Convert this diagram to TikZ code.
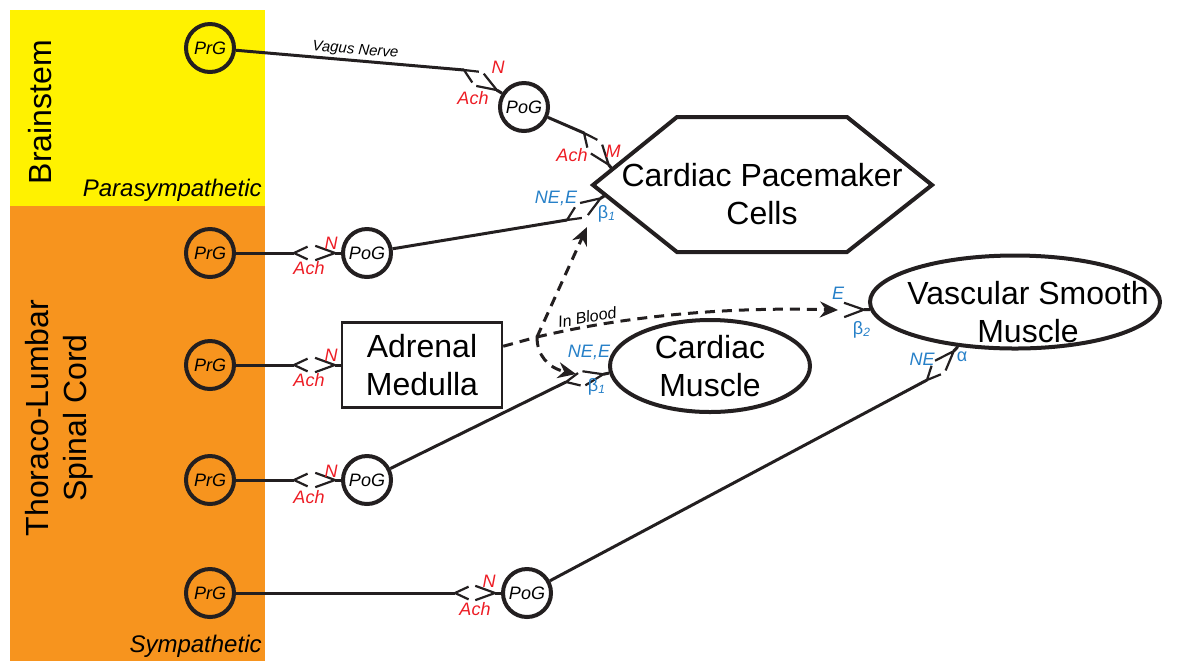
\documentclass[tikz,border=0pt]{standalone}
\usepackage{fontspec}
\setmainfont{Liberation Sans}
\usetikzlibrary{calc,arrows.meta,shapes.geometric}

\definecolor{stemyellow}{RGB}{255,242,0}
\definecolor{cordorange}{RGB}{247,148,30}
\definecolor{achred}{RGB}{237,28,36}
\definecolor{recblue}{RGB}{38,128,200}
\definecolor{inkblack}{RGB}{35,31,32}

\tikzset{
  ganglion/.style={circle, draw=inkblack, line width=2pt, minimum size=24pt, inner sep=0pt,
    font=\fontsize{9}{10}\selectfont\itshape},
  bigtext/.style={align=center, inner sep=0pt, font=\fontsize{16}{19}\selectfont},
  organ/.style={bigtext, draw=inkblack, line width=2pt},
  nerve/.style={draw=inkblack, line width=1.5pt},
  synfork/.style={draw=inkblack, line width=1.1pt},
  bloodline/.style={draw=inkblack, line width=1.5pt, dash pattern=on 5pt off 3.5pt},
  bloodarrow/.style={bloodline, -{Stealth[length=9pt,width=8pt]}},
  nlabel/.style={text=achred, inner sep=0pt, font=\fontsize{9}{10}\selectfont\itshape},
  rlabel/.style={text=recblue, inner sep=0pt, font=\fontsize{9}{10}\selectfont\itshape},
  bandlabel/.style={bigtext, rotate=90},
  divlabel/.style={anchor=east, inner sep=0pt, font=\fontsize{12}{14}\selectfont\itshape}
}

% presynaptic ending "<" at #1, opening towards #2
\newcommand{\presyn}[2]{%
  \draw[synfork] ($(#1)!7.5pt!25:(#2)$) -- (#1) -- ($(#1)!7.5pt!-25:(#2)$);}
% receptor ">" whose stem ends on #2
\newcommand{\postsyn}[2]{%
  \coordinate (rec) at ($(#2)!3pt!(#1)$);
  \draw[synfork] ($(rec)!10.5pt!20:(#1)$) -- (rec) -- ($(rec)!10.5pt!-20:(#1)$);
  \draw[nerve] (rec) -- (#2);}

\begin{document}
\begin{tikzpicture}[x=0.5pt,y=-0.5pt]
\useasboundingbox (0,0) rectangle (1195,661);

% Bands
\fill[stemyellow] (10,10) rectangle (265,206);
\fill[cordorange] (10,206) rectangle (265,661);
\node[bandlabel] (bstem) at (40,112) {Brainstem};
\node[bandlabel] (tlcord) at (59,418) {Thoraco-Lumbar\\Spinal Cord};
\node[divlabel] (para) at (262,190) {Parasympathetic};
\node[divlabel] (symp) at (262,646) {Sympathetic};

% Ganglia
\node[ganglion] (prg1) at (210,48) {PrG};
\node[ganglion] (prg2) at (210,253) {PrG};
\node[ganglion] (prg3) at (210,365) {PrG};
\node[ganglion] (prg4) at (210,480) {PrG};
\node[ganglion] (prg5) at (210,593) {PrG};
\node[ganglion, fill=white] (pog1) at (524,107) {PoG};
\node[ganglion, fill=white] (pog2) at (367,253) {PoG};
\node[ganglion, fill=white] (pog4) at (367,480) {PoG};
\node[ganglion, fill=white] (pog5) at (527,593) {PoG};

% Targets
\coordinate (hx-l) at (593,185);
\coordinate (hx-tl) at (677,117);
\coordinate (hx-tr) at (847,117);
\coordinate (hx-r) at (932,185);
\coordinate (hx-br) at (847,252);
\coordinate (hx-bl) at (677,252);
\draw[inkblack, line width=2pt] (hx-l) -- (hx-tl) -- (hx-tr) -- (hx-r) -- (hx-br) -- (hx-bl) -- cycle;
\node[bigtext] (pace) at (762,194) {Cardiac Pacemaker\\Cells};
\node[organ, rectangle, line width=1.2pt, minimum width=80pt, minimum height=42.5pt] (adrenal) at (422,365) {Adrenal\\Medulla};
\node[organ, ellipse, minimum width=100pt, minimum height=46pt] (cmus) at (710,366) {Cardiac\\Muscle};
\node[organ, ellipse, minimum width=145pt, minimum height=46.5pt] (vsm) at (1015,302) {};
\node[bigtext] (vsmtext) at (1028,312) {Vascular Smooth\\Muscle};

% Parasympathetic pathway
\coordinate (s1) at (464,70);
\draw[nerve] (prg1) -- node[sloped, above=1pt, pos=0.52, inner sep=0pt,
  font=\fontsize{7.5}{9}\selectfont\itshape] (vagus) {Vagus Nerve} (s1);
\presyn{s1}{pog1.148}
\postsyn{s1}{pog1.148}
\node[nlabel] (n1) at (498,67) {N};
\node[nlabel] (a1) at (473,98) {Ach};

\coordinate (s2) at (584,133);
\coordinate (pm-m) at ($(hx-l)!0.23!(hx-tl)$);
\draw[nerve] (pog1) -- (s2);
\presyn{s2}{pm-m}
\postsyn{s2}{pm-m}
\node[nlabel] (a2) at (572,155) {Ach};
\node[nlabel] (m2) at (613,151) {M};

% Sympathetic pathways
\coordinate (s4) at (294,253);
\draw[nerve] (prg2) -- (s4);
\presyn{s4}{pog2.west}
\postsyn{s4}{pog2.west}
\node[nlabel] (n4) at (331,243) {N};
\node[nlabel] (a4) at (309,268) {Ach};

\coordinate (s3) at (567,220);
\coordinate (pm-b) at ($(hx-l)!0.15!(hx-bl)$);
\draw[nerve] (pog2) -- (s3);
\presyn{s3}{pm-b}
\postsyn{s3}{pm-b}
\node[rlabel] (e3) at (556,198) {NE,E};
\node[rlabel] (b3) at (607,214) {{\upshape β}\textsubscript{1}};

\coordinate (s5) at (294,365);
\draw[nerve] (prg3) -- (s5);
\presyn{s5}{adrenal.west}
\postsyn{s5}{adrenal.west}
\node[nlabel] (n5) at (331,355) {N};
\node[nlabel] (a5) at (309,380) {Ach};

\coordinate (s6) at (294,480);
\draw[nerve] (prg4) -- (s6);
\presyn{s6}{pog4.west}
\postsyn{s6}{pog4.west}
\node[nlabel] (n6) at (331,471) {N};
\node[nlabel] (a6) at (309,497) {Ach};

\coordinate (s8) at (566,382);
\draw[nerve] (pog4) -- (s8);
\presyn{s8}{cmus.184}
\postsyn{s8}{cmus.184}
\node[rlabel] (e8) at (589,352) {NE,E};
\node[rlabel] (b8) at (597,387) {{\upshape β}\textsubscript{1}};

\coordinate (s7) at (455,593);
\draw[nerve] (prg5) -- (s7);
\presyn{s7}{pog5.west}
\postsyn{s7}{pog5.west}
\node[nlabel] (n7) at (489,581) {N};
\node[nlabel] (a7) at (475,609) {Ach};

\coordinate (s9) at (927,380);
\draw[nerve] (pog5) -- (s9);
\presyn{s9}{vsm.218}
\postsyn{s9}{vsm.218}
\node[rlabel] (e9) at (922,359) {NE};
\node[rlabel] (al9) at (962,357) {\upshape α};

% Hormones in blood
\coordinate (blood) at (537,337);
\coordinate (bl-pm) at (587,227);
\coordinate (bl-cm) at (576,374);
\coordinate (e-in) at (838,310);
\draw[bloodline] (adrenal.13) -- (blood);
\draw[bloodarrow] (blood) -- (bl-pm);
\draw[bloodarrow] (blood) .. controls (537,355) and (548,368) .. (bl-cm);
\draw[bloodarrow] (blood) .. controls (600,322) and (700,306) .. node[sloped, above=1pt, pos=0.24, inner sep=0pt,
  font=\fontsize{8}{9}\selectfont\itshape] (inblood) {In Blood} (e-in);
\postsyn{e-in}{vsm.183}
\node[rlabel] (e10) at (838,293) {E};
\node[rlabel] (b10) at (862,330) {{\upshape β}\textsubscript{2}};
\end{tikzpicture}
\end{document}
